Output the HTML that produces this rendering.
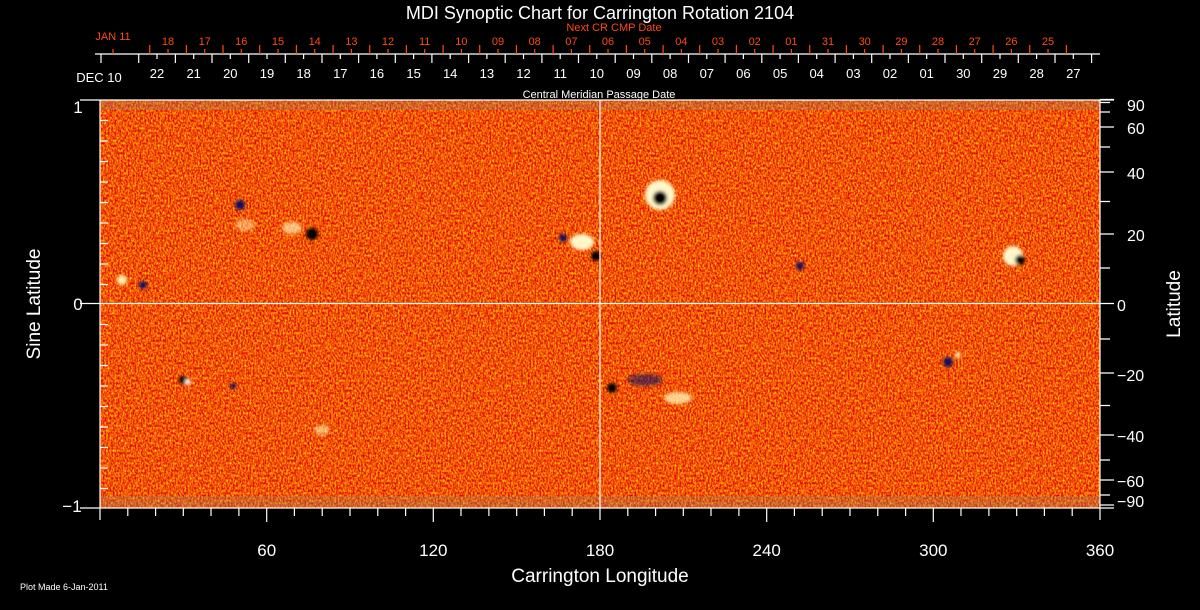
<!DOCTYPE html>
<html><head><meta charset="utf-8"><style>
html,body{margin:0;padding:0;background:#000;}
svg{display:block;}
text{font-family:"Liberation Sans","DejaVu Sans",sans-serif;}
</style></head><body>
<svg width="1200" height="610" viewBox="0 0 1200 610" xmlns="http://www.w3.org/2000/svg">
<defs>
<filter id="n" x="0" y="0" width="100%" height="100%" color-interpolation-filters="sRGB">
<feTurbulence type="fractalNoise" baseFrequency="0.6 0.4" numOctaves="2" seed="3" result="t"/>
<feColorMatrix in="t" type="matrix" values="0.3 0 0 0 0.8  1.5 0 0 0 -0.42  0 0 0 0 0.02  0 0 0 0 1"/>
</filter>
<filter id="b" x="-50%" y="-50%" width="200%" height="200%"><feGaussianBlur stdDeviation="1.5"/></filter>
</defs>
<rect width="1200" height="610" fill="#000"/>
<rect x="100" y="100" width="1000" height="408" fill="#e84512"/>
<rect x="100" y="100" width="1000" height="408" filter="url(#n)"/>
<rect x="100" y="100" width="1000" height="10" fill="#a08060" opacity="0.35"/>
<rect x="100" y="496" width="1000" height="11" fill="#a08060" opacity="0.35"/>
<g filter="url(#b)">
<circle cx="660" cy="195" r="15" fill="#fff7c8"/>
<circle cx="660" cy="198" r="7" fill="#000"/>
<circle cx="1013" cy="256" r="10" fill="#fff7c8"/>
<circle cx="1020" cy="260" r="5" fill="#000"/>
<ellipse cx="582" cy="242" rx="12" ry="8" fill="#fff7c8"/>
<circle cx="596" cy="256" r="5" fill="#000"/>
<circle cx="563" cy="238" r="4" fill="#101060"/>
<ellipse cx="292" cy="228" rx="10" ry="6" fill="#fff0b0" opacity="0.7"/>
<circle cx="312" cy="234" r="6" fill="#000"/>
<circle cx="240" cy="205" r="5" fill="#101060"/>
<ellipse cx="245" cy="225" rx="10" ry="6" fill="#fff0b0" opacity="0.5"/>
<circle cx="122" cy="280" r="5" fill="#fff0b0"/>
<circle cx="143" cy="285" r="4" fill="#101060"/>
<circle cx="183" cy="380" r="4" fill="#000"/>
<circle cx="188" cy="382" r="3" fill="#fff"/>
<circle cx="233" cy="386" r="3" fill="#101060"/>
<circle cx="800" cy="266" r="4" fill="#101060"/>
<ellipse cx="645" cy="380" rx="18" ry="6" fill="#101060" opacity="0.6"/>
<ellipse cx="678" cy="398" rx="14" ry="6" fill="#fff0b0" opacity="0.8"/>
<circle cx="612" cy="388" r="5" fill="#000"/>
<circle cx="948" cy="362" r="5" fill="#101060"/>
<circle cx="958" cy="355" r="3" fill="#fff0b0"/>
<ellipse cx="322" cy="430" rx="8" ry="5" fill="#fff0b0" opacity="0.6"/>
</g>
<g stroke="#fff" stroke-width="1.2" fill="none">
<line x1="80" y1="100" x2="1114" y2="100"/>
<line x1="80" y1="508" x2="1114" y2="508"/>
<line x1="100" y1="100" x2="100" y2="520"/>
<line x1="1100" y1="100" x2="1100" y2="520"/>
<line x1="80" y1="303.5" x2="1114" y2="303.5"/>
<line x1="600" y1="100" x2="600" y2="520"/>
<line x1="95" y1="54" x2="1100" y2="54"/>
<path d="M1100 99.5h14M1100 102.5h10M1100 112h10M1100 127h14M1100 147h10M1100 172h14M1100 201.5h10M1100 234h14M1100 268h10M1100 339h10M1100 373h14M1100 405.5h10M1100 435h14M1100 460h10M1100 480h14M1100 495h10M1100 505h14"/>
<path d="M100 120.5h8M100 141h8M100 161.5h8M100 182h8M100 202.5h8M100 223h8M100 243.5h8M100 264h8M100 284.5h8M100 324.5h8M100 345h8M100 365.5h8M100 386h8M100 406.5h8M100 427h8M100 447.5h8M100 468h8M100 488.5h8"/>
<path d="M127.8 508v8M155.6 508v8M183.3 508v8M211 508v8M238.9 508v8M266.7 508v14M294.4 508v8M322.2 508v8M350 508v8M377.8 508v8M405.6 508v8M433.3 508v14M461 508v8M488.9 508v8M516.7 508v8M544.4 508v8M572.2 508v8M627.8 508v8M655.6 508v8M683.3 508v8M711 508v8M738.9 508v8M766.7 508v14M794.4 508v8M822.2 508v8M850 508v8M877.8 508v8M905.6 508v8M933.3 508v14M961 508v8M988.9 508v8M1016.7 508v8M1044.4 508v8M1072.2 508v8"/>
<path d="M101 54v9M138.7 54v9M175.4 54v9M212 54v9M248.7 54v9M285.3 54v9M322 54v9M358.6 54v9M395.3 54v9M431.9 54v9M468.6 54v9M505.2 54v9M541.9 54v9M578.5 54v9M615.2 54v9M651.8 54v9M688.5 54v9M725.1 54v9M761.8 54v9M798.4 54v9M835.1 54v9M871.7 54v9M908.4 54v9M945 54v9M981.7 54v9M1018.3 54v9M1055 54v9M1091.6 54v9
M157 54v5M193.7 54v5M230.3 54v5M267 54v5M303.6 54v5M340.3 54v5M376.9 54v5M413.6 54v5M450.2 54v5M486.9 54v5M523.5 54v5M560.2 54v5M596.8 54v5M633.5 54v5M670.1 54v5M706.8 54v5M743.4 54v5M780.1 54v5M816.7 54v5M853.4 54v5M890 54v5M926.7 54v5M963.3 54v5M1000 54v5M1036.6 54v5M1073.3 54v5"/>
</g>
<g stroke="#ff4a10" stroke-width="1.2" fill="none">
<path d="M149.7 45v9M186.4 45v9M223 45v9M259.7 45v9M296.4 45v9M333.1 45v9M369.7 45v9M406.4 45v9M443.1 45v9M479.7 45v9M516.4 45v9M553.1 45v9M589.7 45v9M626.4 45v9M663.1 45v9M699.7 45v9M736.4 45v9M773.1 45v9M809.7 45v9M846.4 45v9M883.1 45v9M919.7 45v9M956.4 45v9M993.1 45v9M1029.7 45v9M1066.4 45v9
M113 49v5M168 49v5M204.7 49v5M241.3 49v5M278 49v5M314.7 49v5M351.4 49v5M388 49v5M424.7 49v5M461.4 49v5M498 49v5M534.7 49v5M571.4 49v5M608 49v5M644.7 49v5M681.4 49v5M718 49v5M754.7 49v5M791.4 49v5M828 49v5M864.7 49v5M901.4 49v5M938 49v5M974.7 49v5M1011.4 49v5M1048 49v5"/>
</g>
<g fill="#fff" font-size="13" text-anchor="middle">
<text x="157" y="78">22</text><text x="193.7" y="78">21</text><text x="230.3" y="78">20</text><text x="267" y="78">19</text><text x="303.6" y="78">18</text><text x="340.3" y="78">17</text><text x="376.9" y="78">16</text><text x="413.6" y="78">15</text><text x="450.2" y="78">14</text><text x="486.9" y="78">13</text><text x="523.5" y="78">12</text><text x="560.2" y="78">11</text><text x="596.8" y="78">10</text><text x="633.5" y="78">09</text><text x="670.1" y="78">08</text><text x="706.8" y="78">07</text><text x="743.4" y="78">06</text><text x="780.1" y="78">05</text><text x="816.7" y="78">04</text><text x="853.4" y="78">03</text><text x="890" y="78">02</text><text x="926.7" y="78">01</text><text x="963.3" y="78">30</text><text x="1000" y="78">29</text><text x="1036.6" y="78">28</text><text x="1073.3" y="78">27</text>
</g>
<g fill="#ff4a10" font-size="11" text-anchor="middle">
<text x="168" y="45">18</text><text x="204.7" y="45">17</text><text x="241.3" y="45">16</text><text x="278" y="45">15</text><text x="314.7" y="45">14</text><text x="351.4" y="45">13</text><text x="388" y="45">12</text><text x="424.7" y="45">11</text><text x="461.4" y="45">10</text><text x="498" y="45">09</text><text x="534.7" y="45">08</text><text x="571.4" y="45">07</text><text x="608" y="45">06</text><text x="644.7" y="45">05</text><text x="681.4" y="45">04</text><text x="718" y="45">03</text><text x="754.7" y="45">02</text><text x="791.4" y="45">01</text><text x="828" y="45">31</text><text x="864.7" y="45">30</text><text x="901.4" y="45">29</text><text x="938" y="45">28</text><text x="974.7" y="45">27</text><text x="1011.4" y="45">26</text><text x="1048" y="45">25</text>
<text x="113" y="40">JAN 11</text>
<text x="614" y="31">Next CR CMP Date</text>
</g>
<text x="600" y="19" fill="#fff" font-size="18" text-anchor="middle">MDI Synoptic Chart for Carrington Rotation 2104</text>
<text x="99" y="82" fill="#fff" font-size="13" text-anchor="middle">DEC 10</text>
<text x="599" y="98" fill="#fff" font-size="11" text-anchor="middle">Central Meridian Passage Date</text>
<g fill="#fff" font-size="17" text-anchor="middle">
<text x="78" y="113">1</text><text x="78" y="310">0</text><text x="72" y="512">−1</text>
<text x="266.7" y="556">60</text><text x="433.3" y="556">120</text><text x="600" y="556">180</text><text x="766.7" y="556">240</text><text x="933.3" y="556">300</text><text x="1100" y="556">360</text>
<text x="600" y="582" font-size="19">Carrington Longitude</text>
</g>
<g fill="#fff" font-size="16" text-anchor="start">
<text x="1127" y="111">90</text><text x="1127" y="134">60</text><text x="1127" y="179">40</text><text x="1127" y="241">20</text><text x="1117" y="311">0</text>
<text x="1117" y="381">−20</text><text x="1117" y="442">−40</text><text x="1117" y="487">−60</text><text x="1117" y="507">−90</text>
</g>
<text transform="translate(40 304) rotate(-90)" fill="#fff" font-size="19" text-anchor="middle">Sine Latitude</text>
<text transform="translate(1180 304) rotate(-90)" fill="#fff" font-size="19" text-anchor="middle">Latitude</text>
<text x="20" y="590" fill="#fff" font-size="9">Plot Made  6-Jan-2011</text>
</svg>
</body></html>
